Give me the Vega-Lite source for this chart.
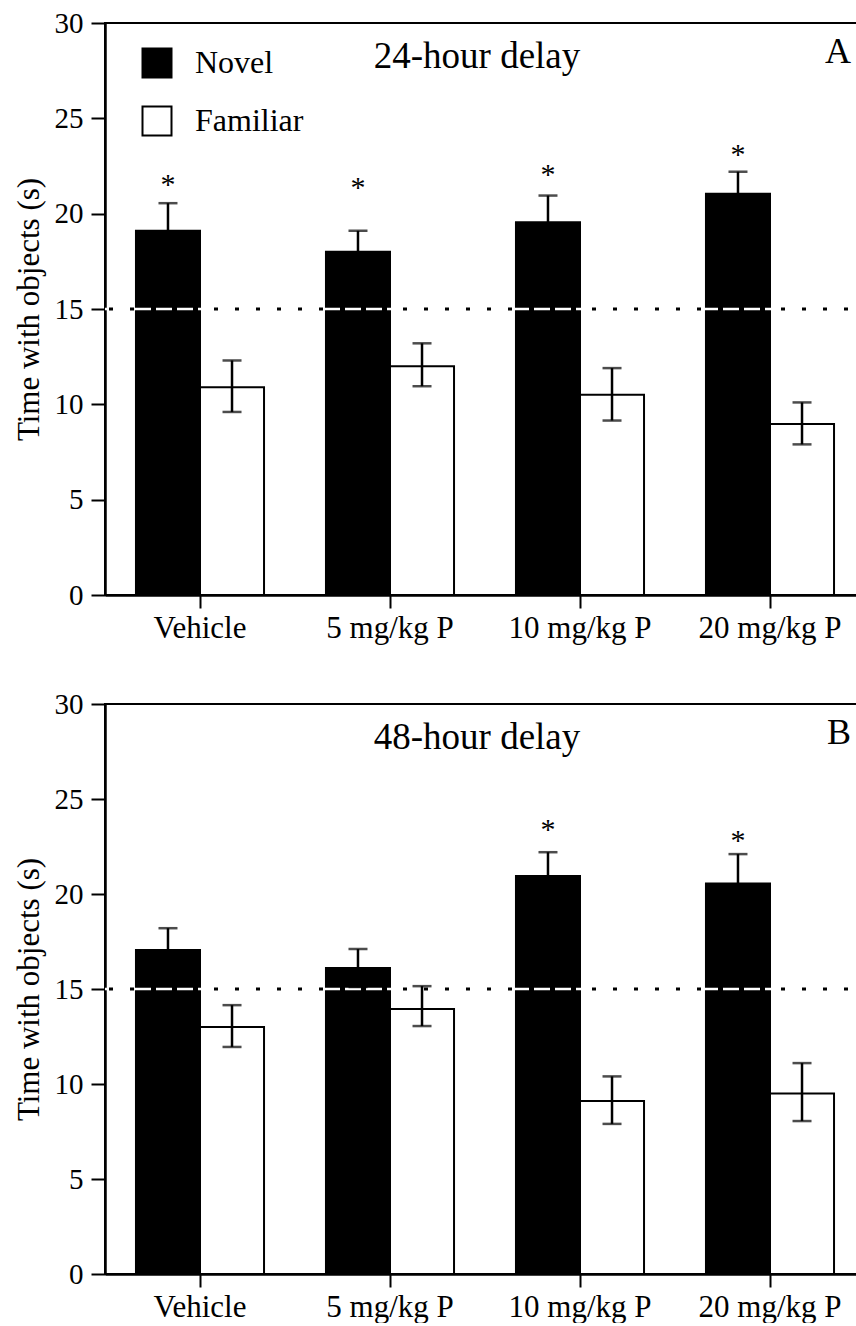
{
  "$schema": "https://vega.github.io/schema/vega-lite/v6.json",
  "autosize": {"type": "pad"},
  "padding": {"left": 12, "top": 8, "right": 0, "bottom": 0},
  "background": "white",
  "config": {
    "font": "Liberation Serif",
    "view": {"stroke": "black", "strokeWidth": 2},
    "axis": {"grid": false, "domainColor": "black", "domainWidth": 2.5, "tickColor": "black", "tickWidth": 2, "labelColor": "black", "titleColor": "black", "labelFont": "Liberation Serif", "titleFont": "Liberation Serif"},
    "legend": {"labelFont": "Liberation Serif"},
    "text": {"font": "Liberation Serif"},
    "title": {"font": "Liberation Serif", "fontWeight": "normal", "color": "black"}
  },
  "datasets": {
    "A": [
      {"dose": "Vehicle", "obj": "Novel", "mean": 19.1, "lo": 17.7, "hi": 20.55, "sig": true, "star": 21.7},
      {"dose": "Vehicle", "obj": "Familiar", "mean": 10.9, "lo": 9.6, "hi": 12.3, "sig": false, "star": null},
      {"dose": "5 mg/kg P", "obj": "Novel", "mean": 18.0, "lo": 16.9, "hi": 19.1, "sig": true, "star": 21.55},
      {"dose": "5 mg/kg P", "obj": "Familiar", "mean": 12.0, "lo": 10.95, "hi": 13.2, "sig": false, "star": null},
      {"dose": "10 mg/kg P", "obj": "Novel", "mean": 19.55, "lo": 18.1, "hi": 20.95, "sig": true, "star": 22.25},
      {"dose": "10 mg/kg P", "obj": "Familiar", "mean": 10.5, "lo": 9.15, "hi": 11.9, "sig": false, "star": null},
      {"dose": "20 mg/kg P", "obj": "Novel", "mean": 21.05, "lo": 19.9, "hi": 22.2, "sig": true, "star": 23.3},
      {"dose": "20 mg/kg P", "obj": "Familiar", "mean": 8.97, "lo": 7.9, "hi": 10.1, "sig": false, "star": null}
    ],
    "B": [
      {"dose": "Vehicle", "obj": "Novel", "mean": 17.05, "lo": 15.9, "hi": 18.2, "sig": false, "star": null},
      {"dose": "Vehicle", "obj": "Familiar", "mean": 13.0, "lo": 11.95, "hi": 14.15, "sig": false, "star": null},
      {"dose": "5 mg/kg P", "obj": "Novel", "mean": 16.1, "lo": 15.1, "hi": 17.1, "sig": false, "star": null},
      {"dose": "5 mg/kg P", "obj": "Familiar", "mean": 13.95, "lo": 13.05, "hi": 15.15, "sig": false, "star": null},
      {"dose": "10 mg/kg P", "obj": "Novel", "mean": 20.95, "lo": 19.7, "hi": 22.2, "sig": true, "star": 23.6},
      {"dose": "10 mg/kg P", "obj": "Familiar", "mean": 9.1, "lo": 7.9, "hi": 10.4, "sig": false, "star": null},
      {"dose": "20 mg/kg P", "obj": "Novel", "mean": 20.55, "lo": 19.0, "hi": 22.1, "sig": true, "star": 23.0},
      {"dose": "20 mg/kg P", "obj": "Familiar", "mean": 9.5, "lo": 8.05, "hi": 11.1, "sig": false, "star": null}
    ]
  },
  "spacing": 109,
  "bounds": "flush",
  "resolve": {"scale": {"fill": "independent", "y": "independent", "x": "independent"}, "legend": {"fill": "independent"}},
  "vconcat": [
    {
      "width": 760,
      "height": 572,
      "title": {"text": "24-hour delay", "fontSize": 37, "offset": -67, "dx": -8, "anchor": "middle", "font": "Liberation Serif"},
      "layer": [
        {
          "data": {"name": "A"},
          "mark": {"type": "bar", "stroke": "black", "strokeWidth": 2},
          "encoding": {
            "x": {"field": "dose", "type": "nominal", "sort": ["Vehicle", "5 mg/kg P", "10 mg/kg P", "20 mg/kg P"], "scale": {"paddingInner": 0.326, "paddingOuter": 0.163}, "axis": {"title": null, "labelFontSize": 31, "labelFont": "Liberation Serif", "labelAngle": 0, "tickSize": 13, "labelPadding": 5}},
            "xOffset": {"field": "obj", "type": "nominal", "sort": ["Novel", "Familiar"], "scale": {"paddingInner": 0, "paddingOuter": 0}},
            "y": {"field": "mean", "type": "quantitative", "title": "Time with objects (s)", "scale": {"domain": [0, 30], "nice": false}, "axis": {"values": [0, 5, 10, 15, 20, 25, 30], "labelFontSize": 29, "labelFont": "Liberation Serif", "titleFontSize": 31, "titleFont": "Liberation Serif", "titleFontWeight": "normal", "tickSize": 14, "labelPadding": 8, "titlePadding": 9}},
            "fill": {"field": "obj", "type": "nominal", "scale": {"domain": ["Novel", "Familiar"], "range": ["black", "white"]}, "legend": {"title": null, "orient": "none", "legendX": 36, "legendY": 24, "symbolType": "square", "symbolSize": 841, "symbolStrokeColor": "black", "symbolStrokeWidth": 2, "labelFontSize": 32, "labelColor": "black", "labelFont": "Liberation Serif", "labelOffset": 22, "rowPadding": 20}}
          }
        },
        {
          "data": {"values": [{"ref": 15}]},
          "mark": {"type": "rule", "color": "white", "strokeWidth": 2.5, "strokeDash": [16, 5], "strokeDashOffset": 0},
          "encoding": {"y": {"field": "ref", "type": "quantitative", "title": "Time with objects (s)"}}
        },
        {
          "data": {"values": [{"ref": 15}]},
          "mark": {"type": "rule", "color": "black", "strokeWidth": 3, "strokeDash": [4, 17], "strokeDashOffset": -17},
          "encoding": {"y": {"field": "ref", "type": "quantitative", "title": "Time with objects (s)"}}
        },
        {
          "data": {"name": "A"},
          "mark": {"type": "rule", "color": "black", "strokeWidth": 2.5},
          "encoding": {
            "x": {"field": "dose", "type": "nominal", "sort": ["Vehicle", "5 mg/kg P", "10 mg/kg P", "20 mg/kg P"]},
            "xOffset": {"field": "obj", "type": "nominal", "sort": ["Novel", "Familiar"]},
            "y": {"field": "lo", "type": "quantitative", "title": "Time with objects (s)"},
            "y2": {"field": "hi"}
          }
        },
        {
          "data": {"name": "A"},
          "mark": {"type": "tick", "orient": "horizontal", "size": 19, "thickness": 2.5, "color": "black"},
          "encoding": {
            "x": {"field": "dose", "type": "nominal", "sort": ["Vehicle", "5 mg/kg P", "10 mg/kg P", "20 mg/kg P"]},
            "xOffset": {"field": "obj", "type": "nominal", "sort": ["Novel", "Familiar"]},
            "y": {"field": "hi", "type": "quantitative", "title": "Time with objects (s)"}
          }
        },
        {
          "data": {"name": "A"},
          "mark": {"type": "tick", "orient": "horizontal", "size": 19, "thickness": 2.5, "color": "black"},
          "encoding": {
            "x": {"field": "dose", "type": "nominal", "sort": ["Vehicle", "5 mg/kg P", "10 mg/kg P", "20 mg/kg P"]},
            "xOffset": {"field": "obj", "type": "nominal", "sort": ["Novel", "Familiar"]},
            "y": {"field": "lo", "type": "quantitative", "title": "Time with objects (s)"}
          }
        },
        {
          "data": {"name": "A"},
          "transform": [{"filter": "datum.sig"}],
          "mark": {"type": "text", "text": "*", "fontSize": 30, "font": "Liberation Serif", "baseline": "alphabetic", "dy": 13, "color": "black"},
          "encoding": {
            "x": {"field": "dose", "type": "nominal", "sort": ["Vehicle", "5 mg/kg P", "10 mg/kg P", "20 mg/kg P"]},
            "xOffset": {"field": "obj", "type": "nominal", "sort": ["Novel", "Familiar"]},
            "y": {"field": "star", "type": "quantitative", "title": "Time with objects (s)"}
          }
        },
        {
          "data": {"values": [{"letter": "A", "dose": "20 mg/kg P", "pos": 27.9}]},
          "mark": {"type": "text", "fontSize": 36, "font": "Liberation Serif", "align": "right", "baseline": "alphabetic", "dx": 17, "color": "black"},
          "encoding": {
            "x": {"field": "dose", "type": "nominal", "sort": ["Vehicle", "5 mg/kg P", "10 mg/kg P", "20 mg/kg P"], "bandPosition": 1},
            "y": {"field": "pos", "type": "quantitative", "title": "Time with objects (s)"},
            "text": {"field": "letter"}
          }
        }
      ]
    },
    {
      "width": 760,
      "height": 570,
      "title": {"text": "48-hour delay", "fontSize": 37, "offset": -67, "dx": -8, "anchor": "middle", "font": "Liberation Serif"},
      "layer": [
        {
          "data": {"name": "B"},
          "mark": {"type": "bar", "stroke": "black", "strokeWidth": 2},
          "encoding": {
            "x": {"field": "dose", "type": "nominal", "sort": ["Vehicle", "5 mg/kg P", "10 mg/kg P", "20 mg/kg P"], "scale": {"paddingInner": 0.326, "paddingOuter": 0.163}, "axis": {"title": null, "labelFontSize": 31, "labelFont": "Liberation Serif", "labelAngle": 0, "tickSize": 13, "labelPadding": 5}},
            "xOffset": {"field": "obj", "type": "nominal", "sort": ["Novel", "Familiar"], "scale": {"paddingInner": 0, "paddingOuter": 0}},
            "y": {"field": "mean", "type": "quantitative", "title": "Time with objects (s)", "scale": {"domain": [0, 30], "nice": false}, "axis": {"values": [0, 5, 10, 15, 20, 25, 30], "labelFontSize": 29, "labelFont": "Liberation Serif", "titleFontSize": 31, "titleFont": "Liberation Serif", "titleFontWeight": "normal", "tickSize": 14, "labelPadding": 8, "titlePadding": 9}},
            "fill": {"field": "obj", "type": "nominal", "scale": {"domain": ["Novel", "Familiar"], "range": ["black", "white"]}, "legend": null}
          }
        },
        {
          "data": {"values": [{"ref": 15}]},
          "mark": {"type": "rule", "color": "white", "strokeWidth": 2.5, "strokeDash": [16, 5], "strokeDashOffset": 0},
          "encoding": {"y": {"field": "ref", "type": "quantitative", "title": "Time with objects (s)"}}
        },
        {
          "data": {"values": [{"ref": 15}]},
          "mark": {"type": "rule", "color": "black", "strokeWidth": 3, "strokeDash": [4, 17], "strokeDashOffset": -17},
          "encoding": {"y": {"field": "ref", "type": "quantitative", "title": "Time with objects (s)"}}
        },
        {
          "data": {"name": "B"},
          "mark": {"type": "rule", "color": "black", "strokeWidth": 2.5},
          "encoding": {
            "x": {"field": "dose", "type": "nominal", "sort": ["Vehicle", "5 mg/kg P", "10 mg/kg P", "20 mg/kg P"]},
            "xOffset": {"field": "obj", "type": "nominal", "sort": ["Novel", "Familiar"]},
            "y": {"field": "lo", "type": "quantitative", "title": "Time with objects (s)"},
            "y2": {"field": "hi"}
          }
        },
        {
          "data": {"name": "B"},
          "mark": {"type": "tick", "orient": "horizontal", "size": 19, "thickness": 2.5, "color": "black"},
          "encoding": {
            "x": {"field": "dose", "type": "nominal", "sort": ["Vehicle", "5 mg/kg P", "10 mg/kg P", "20 mg/kg P"]},
            "xOffset": {"field": "obj", "type": "nominal", "sort": ["Novel", "Familiar"]},
            "y": {"field": "hi", "type": "quantitative", "title": "Time with objects (s)"}
          }
        },
        {
          "data": {"name": "B"},
          "mark": {"type": "tick", "orient": "horizontal", "size": 19, "thickness": 2.5, "color": "black"},
          "encoding": {
            "x": {"field": "dose", "type": "nominal", "sort": ["Vehicle", "5 mg/kg P", "10 mg/kg P", "20 mg/kg P"]},
            "xOffset": {"field": "obj", "type": "nominal", "sort": ["Novel", "Familiar"]},
            "y": {"field": "lo", "type": "quantitative", "title": "Time with objects (s)"}
          }
        },
        {
          "data": {"name": "B"},
          "transform": [{"filter": "datum.sig"}],
          "mark": {"type": "text", "text": "*", "fontSize": 30, "font": "Liberation Serif", "baseline": "alphabetic", "dy": 13, "color": "black"},
          "encoding": {
            "x": {"field": "dose", "type": "nominal", "sort": ["Vehicle", "5 mg/kg P", "10 mg/kg P", "20 mg/kg P"]},
            "xOffset": {"field": "obj", "type": "nominal", "sort": ["Novel", "Familiar"]},
            "y": {"field": "star", "type": "quantitative", "title": "Time with objects (s)"}
          }
        },
        {
          "data": {"values": [{"letter": "B", "dose": "20 mg/kg P", "pos": 27.9}]},
          "mark": {"type": "text", "fontSize": 36, "font": "Liberation Serif", "align": "right", "baseline": "alphabetic", "dx": 17, "color": "black"},
          "encoding": {
            "x": {"field": "dose", "type": "nominal", "sort": ["Vehicle", "5 mg/kg P", "10 mg/kg P", "20 mg/kg P"], "bandPosition": 1},
            "y": {"field": "pos", "type": "quantitative", "title": "Time with objects (s)"},
            "text": {"field": "letter"}
          }
        }
      ]
    }
  ]
}
